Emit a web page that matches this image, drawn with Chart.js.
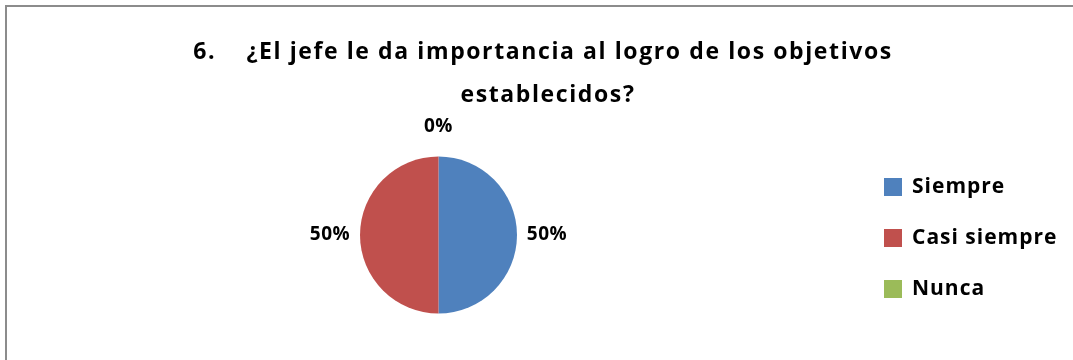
<!DOCTYPE html>
<html>
<head>
<meta charset="utf-8">
<script src="https://cdn.jsdelivr.net/npm/chart.js@4.4.1/dist/chart.umd.min.js"></script>
<style>
  html, body { margin: 0; padding: 0; background: #fff; }
  #wrap { position: relative; width: 1073px; height: 360px; }
</style>
</head>
<body>
<div id="wrap"><canvas id="pie" width="1073" height="360"></canvas></div>
<script>
// Data
const categories = ['Siempre', 'Casi siempre', 'Nunca'];
const values = [50, 50, 0];
const sliceColors = ['#4F81BD', '#C0504D', '#9BBB59'];
const titleLines = ['6.    ¿El jefe le da importancia al logro de los objetivos', 'establecidos?'];

const FONT = '"Open Sans", "DejaVu Sans", sans-serif';

// frame, title, percent labels and legend drawn on top of the pie
const decorations = {
  id: 'decorations',
  afterDraw(chart) {
    const ctx = chart.ctx;
    ctx.save();

    // frame (only top and left edges are visible in the reference)
    ctx.strokeStyle = '#8c8c8c';
    ctx.lineWidth = 2;
    ctx.beginPath();
    ctx.moveTo(6, 360);
    ctx.lineTo(6, 6);
    ctx.lineTo(1073, 6);
    ctx.stroke();

    // title
    ctx.fillStyle = '#000';
    ctx.font = 'bold 23px ' + FONT;
    ctx.letterSpacing = '1.6px';
    ctx.textAlign = 'center';
    ctx.textBaseline = 'middle';
    ctx.fillText(titleLines[0], 543, 52);
    ctx.fillText(titleLines[1], 548, 95);

    // percentage labels outside each slice
    const total = values.reduce((a, b) => a + b, 0);
    const meta = chart.getDatasetMeta(0);
    ctx.font = 'bold 19px ' + FONT;
    ctx.letterSpacing = '0.5px';
    meta.data.forEach((arc, i) => {
      const p = arc.getProps(['x', 'y', 'startAngle', 'endAngle', 'outerRadius'], true);
      const mid = (p.startAngle + p.endAngle) / 2;
      const r = p.outerRadius + 30;
      const pct = Math.round(values[i] / total * 100) + '%';
      ctx.fillText(pct, p.x + Math.cos(mid) * r, p.y + Math.sin(mid) * r);
    });

    // legend
    ctx.textAlign = 'left';
    ctx.font = 'bold 21px ' + FONT;
    ctx.letterSpacing = '1px';
    categories.forEach((c, i) => {
      const y = 187 + i * 51;
      ctx.fillStyle = sliceColors[i];
      ctx.fillRect(884, y - 9, 18, 18);
      ctx.fillStyle = '#000';
      ctx.fillText(c, 912, y);
    });

    ctx.restore();
  }
};

new Chart(document.getElementById('pie'), {
  type: 'pie',
  data: {
    labels: categories,
    datasets: [{
      data: values,
      backgroundColor: sliceColors,
      borderWidth: 0
    }]
  },
  options: {
    responsive: false,
    animation: false,
    layout: {
      padding: { left: 360, right: 556, top: 155, bottom: 45 }
    },
    plugins: {
      legend: { display: false },
      tooltip: { enabled: false },
      title: { display: false }
    }
  },
  plugins: [decorations]
});
</script>
</body>
</html>
